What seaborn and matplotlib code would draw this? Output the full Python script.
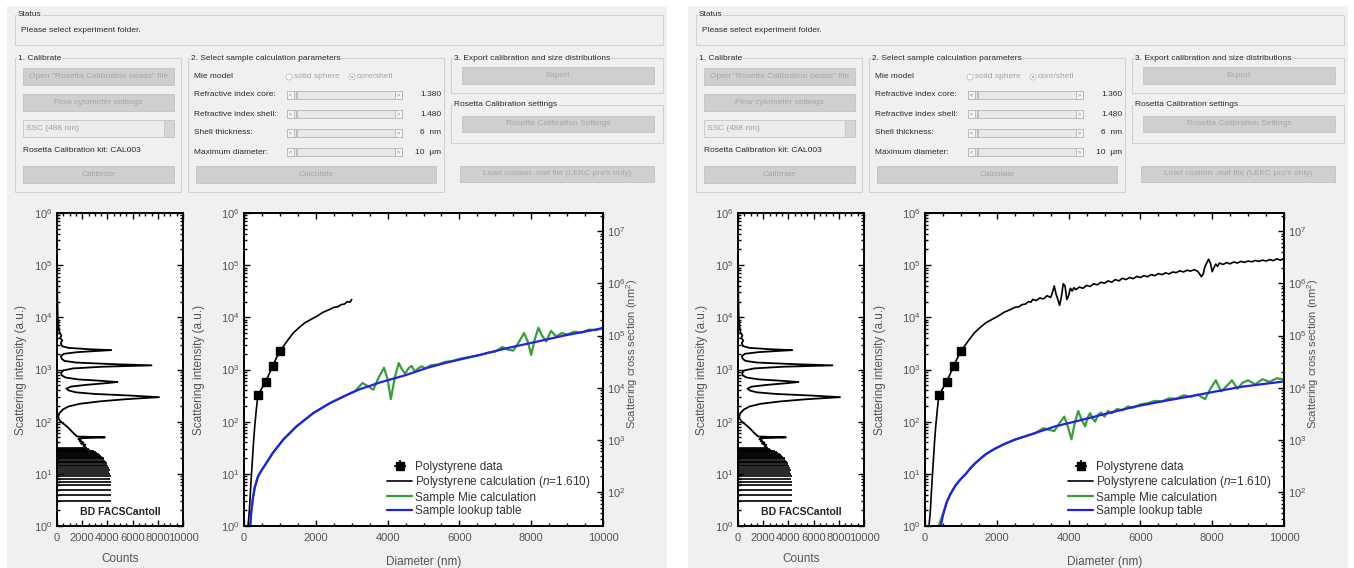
import numpy as np
import matplotlib
matplotlib.use("Agg")
import matplotlib.pyplot as plt
import seaborn as sns
from matplotlib.patches import Rectangle, Ellipse
from matplotlib.ticker import LogLocator, MultipleLocator, NullFormatter

# -----------------------------
# Data
# -----------------------------

# bead histogram (same in both panels): discrete low-intensity bins ...
comb_levels = [3, 4, 5, 6, 7, 8, 9, 10, 11, 12, 13, 14, 15, 16, 17, 18, 19, 20,
               21, 22, 23, 24, 25, 26, 27, 28, 29, 30, 31]
comb_counts = [4300, 4300, 4300, 4250, 4300, 4200, 4250, 4200, 4150, 4200, 4100,
               4050, 4000, 3950, 3900, 3800, 3750, 3700, 3600, 3500, 3400, 3300,
               3200, 3100, 2950, 2800, 2650, 2500, 2400]
# ... and the continuous part above them
hist_intensity = [32, 34, 36, 38, 40, 42, 44, 46, 48, 50, 52, 56, 62, 70, 80, 90, 100,
                  112, 125, 145, 170, 195, 220, 245, 270, 295, 315, 340, 365, 395,
                  430, 470, 510, 550, 575, 605, 645, 700, 770, 860, 960, 1050, 1130,
                  1200, 1270, 1360, 1460, 1600, 1800, 2000, 2150, 2270, 2350, 2450,
                  2600, 2800, 3200, 3600, 4000, 4500, 5100, 6000, 7500, 10000,
                  20000, 60000, 300000]
hist_counts = [2300, 2100, 2250, 1900, 2100, 1800, 1900, 1700, 1800, 3800, 1600,
               1450, 1250, 1050, 800, 550, 300, 150, 100, 180, 450, 900, 1800, 3400,
               5500, 8100, 6000, 3000, 1500, 950, 750, 1100, 2400, 4000, 4800, 3600,
               1700, 700, 380, 330, 500, 1300, 3600, 7500, 4300, 1500, 600, 380, 300,
               550, 1600, 3200, 4300, 2500, 900, 400, 300, 420, 260, 350, 200, 150,
               100, 60, 30, 10, 0]

# polystyrene beads
ps_data_d = [400, 600, 800, 1000]
ps_data_i = [320, 565, 1180, 2290]

# polystyrene Mie calculation up to 3 um (left panel stops here)
ps_calc_d = [100, 150, 177, 200, 233, 265, 298, 335, 372, 400, 450, 500, 600, 700,
             800, 900, 1000, 1100, 1200, 1370, 1550, 1700, 1850, 2020, 2200, 2390,
             2500, 2620, 2700, 2800, 2880, 2950, 3000]
ps_calc_i = [0.8, 2, 4.3, 8, 18, 40, 80, 150, 260, 320, 380, 440, 570, 820, 1170,
             1650, 2250, 2800, 3500, 5000, 6500, 7900, 9000, 10400, 12500, 14200,
             15500, 16000, 17500, 18000, 20000, 19500, 22000]
# continuation to 10 um (right panel)
ps_ext_d = [3100, 3200, 3300, 3400, 3500, 3550, 3600, 3650, 3700, 3750, 3800, 3850,
            3900, 3950, 4000, 4050, 4100, 4150, 4200, 4300, 4400, 4500, 4600, 4700,
            4800, 4900, 5000, 5100, 5200, 5300, 5400, 5500, 5600, 5700, 5800, 5900,
            6000, 6100, 6200, 6300, 6400, 6500, 6600, 6700, 6800, 6900, 7000, 7100,
            7200, 7300, 7400, 7500, 7600, 7700, 7750, 7800, 7900, 7950, 8000, 8050,
            8100, 8150, 8200, 8300, 8400, 8500, 8600, 8700, 8800, 8900, 9000, 9100,
            9200, 9300, 9400, 9500, 9600, 9700, 9800, 9900, 10000]
ps_ext_i = [21000, 23500, 22500, 26000, 24000, 30000, 40000, 28000, 22000, 17000,
            25000, 44000, 40000, 22000, 26000, 36000, 32000, 37000, 34000, 38000,
            36000, 41000, 39000, 44000, 42000, 47000, 45000, 50000, 47000, 53000,
            50000, 56000, 53000, 58000, 55000, 61000, 58000, 63000, 60000, 66000,
            63000, 69000, 66000, 71000, 68000, 74000, 72000, 78000, 74000, 80000,
            77000, 82000, 76000, 60000, 68000, 95000, 130000, 110000, 75000, 90000,
            105000, 95000, 110000, 103000, 112000, 106000, 115000, 110000, 118000,
            113000, 120000, 116000, 123000, 118000, 125000, 120000, 128000, 122000,
            132000, 125000, 135000]

# left panel sample (core 1.380)
left_lut_d = [175, 200, 250, 300, 390, 500, 620, 800, 1090, 1460, 1930, 2390, 2860,
              3230, 3790, 4530, 5090, 5650, 6390, 7320, 7970, 8900, 10000]
left_lut_i = [1, 1.8, 3.5, 5.5, 8.9, 12, 16, 25, 45, 81, 146, 226, 324, 420, 565,
              790, 1070, 1360, 1780, 2560, 3200, 4450, 6200]
left_mie_d = [175, 200, 250, 300, 390, 500, 620, 800, 1090, 1460, 1930, 2390, 2860,
              3100, 3300, 3450, 3600, 3750, 3900, 4000, 4090, 4200, 4310, 4400, 4490,
              4580, 4670, 4760, 4850, 4950, 5050, 5200, 5400, 5600, 5800, 6000, 6200,
              6400, 6600, 6800, 7000, 7200, 7350, 7500, 7650, 7800, 7900, 8000, 8100,
              8200, 8300, 8420, 8550, 8700, 8850, 9000, 9200, 9400, 9600, 9800, 10000]
left_mie_i = [1, 1.8, 3.5, 5.5, 8.9, 12, 16, 25, 45, 81, 146, 226, 324, 390, 550,
              480, 410, 700, 1080, 650, 270, 700, 1330, 1000, 830, 1050, 1170, 900,
              1050, 1150, 1050, 1200, 1250, 1400, 1450, 1600, 1700, 1800, 1900, 2100,
              2200, 2700, 2400, 2300, 3300, 5000, 3500, 1900, 3800, 6300, 4500, 3450,
              5500, 4300, 5000, 4700, 5300, 5100, 5800, 5700, 6300]

# right panel sample (core 1.360)
right_lut_d = [440, 500, 600, 700, 850, 1000, 1140, 1250, 1400, 1560, 1700, 1935,
               2200, 2495, 3056, 3617, 4364, 5112, 5860, 6607, 7355, 8103, 8850, 10000]
right_lut_i = [1, 1.6, 2.8, 4, 6, 8, 10, 12.5, 16, 20, 24, 30, 37, 45, 60, 81, 108,
               146, 195, 245, 303, 380, 470, 590]
right_mie_d = [380, 500, 600, 700, 850, 1000, 1140, 1250, 1400, 1560, 1700, 1935,
               2200, 2495, 3056, 3300, 3450, 3600, 3750, 3880, 3980, 4080, 4180, 4270,
               4360, 4460, 4530, 4600, 4670, 4740, 4820, 4900, 5000, 5100, 5200, 5350,
               5500, 5650, 5800, 6000, 6200, 6400, 6600, 6800, 7000, 7200, 7400, 7600,
               7800, 7950, 8100, 8250, 8400, 8550, 8700, 8850, 9000, 9200, 9400, 9600,
               9800, 10000]
right_mie_i = [1, 1.7, 2.8, 4, 6, 8, 10, 12.5, 16, 20, 24, 30, 37, 45, 60, 75, 70, 66,
               95, 125, 80, 46, 100, 160, 110, 81, 120, 146, 115, 100, 135, 150, 125,
               160, 145, 175, 165, 195, 185, 215, 225, 250, 245, 280, 275, 320, 300,
               330, 270, 430, 620, 380, 480, 620, 430, 560, 620, 520, 650, 580, 680, 640]

core_values = ["1.380", "1.360"]
shell_value = "1.480"

# -----------------------------
# Figure setup
# -----------------------------
sns.set_theme(style="white")
plt.rcParams['font.family'] = ['Liberation Sans', 'DejaVu Sans']
plt.rcParams['mathtext.fontset'] = 'custom'
plt.rcParams['mathtext.rm'] = 'Liberation Sans'
plt.rcParams['mathtext.it'] = 'Liberation Sans:italic'
plt.rcParams['mathtext.bf'] = 'Liberation Sans:bold'

W, H = 1354, 568
fig = plt.figure(figsize=(W / 100, H / 100), dpi=100)
fig.patch.set_facecolor('white')

PANEL = '#f0f0f0'
GUI_FS = 6
LABEL_C = '#555555'


def fbox(x, y, w, h):
    return [x / W, 1 - (y + h) / H, w / W, h / H]


def rect(x, y, w, h, **kw):
    r = Rectangle((x / W, 1 - (y + h) / H), w / W, h / H, transform=fig.transFigure, **kw)
    fig.add_artist(r)


def label(x, y, s, **kw):
    opts = dict(fontsize=GUI_FS, color='#2b2b2b', va='center', ha='left')
    opts.update(kw)
    fig.text(x / W, 1 - y / H, s, **opts)


def group(x, y, w, h, title):
    rect(x, y, w, h, fill=False, edgecolor='#d2d2d2', lw=0.8)
    label(x + 3, y, title, bbox=dict(facecolor=PANEL, edgecolor='none', pad=0.4))


def button(x, y, w, h, s):
    rect(x, y, w, h, facecolor='#cfcfcf', edgecolor='#c3c3c3', lw=0.6)
    label(x + w / 2, y + h / 2, s, ha='center', color='#a7a7a7')


def slider(x, y, w, value):
    rect(x, y - 4, w, 8, facecolor='#e8e8e8', edgecolor='#b5b5b5', lw=0.6)
    rect(x, y - 4, 7, 8, facecolor='#f4f4f4', edgecolor='#b5b5b5', lw=0.6)
    rect(x + w - 7, y - 4, 7, 8, facecolor='#f4f4f4', edgecolor='#b5b5b5', lw=0.6)
    rect(x + 9, y - 4, 2, 8, facecolor='#bcbcbc', edgecolor='none')
    label(x + 3.5, y, '<', ha='center', fontsize=4, color='#777777')
    label(x + w - 3.5, y, '>', ha='center', fontsize=4, color='#777777')
    label(441 + (x - 287), y, value, ha='right')


def gui(o, core):
    group(15 + o, 15, 648, 30, 'Status')
    label(21 + o, 30, 'Please select experiment folder.')

    group(15 + o, 58, 166, 134, '1. Calibrate')
    button(23 + o, 68, 151, 17, 'Open "Rosetta Calibration beads" file')
    button(23 + o, 94, 151, 17, 'Flow cytometer settings')
    rect(23 + o, 120, 151, 17, facecolor='#ececec', edgecolor='#c6c6c6', lw=0.6)
    rect(164 + o, 120, 10, 17, facecolor='#d6d6d6', edgecolor='#c6c6c6', lw=0.6)
    label(26 + o, 128.5, 'SSC (488 nm)', color='#a0a0a0')
    label(23 + o, 151, 'Rosetta Calibration kit: CAL003')
    button(23 + o, 166, 151, 17, 'Calibrate')

    group(188 + o, 58, 256, 134, '2. Select sample calculation parameters')
    label(194 + o, 77, 'Mie model')
    for cx, txt, sel in [(289, 'solid sphere', False), (352, 'core/shell', True)]:
        fig.add_artist(Ellipse(((cx + o) / W, 1 - 77 / H), 6 / W, 6 / H,
                               transform=fig.transFigure, facecolor='white',
                               edgecolor='#bdbdbd', lw=0.6))
        if sel:
            fig.add_artist(Ellipse(((cx + o) / W, 1 - 77 / H), 2.4 / W, 2.4 / H,
                                   transform=fig.transFigure, facecolor='#b0b0b0',
                                   edgecolor='none'))
        label(cx + 5 + o, 77, txt, color='#a5a5a5')
    rows = [(95, 'Refractive index core:', core),
            (114, 'Refractive index shell:', shell_value),
            (133, 'Shell thickness:', '6  nm'),
            (152, 'Maximum diameter:', '10  \u00b5m')]
    for ry, txt, val in rows:
        label(194 + o, ry, txt)
        slider(287 + o, ry, 115, val)
    button(196 + o, 166, 240, 17, 'Calculate')

    group(451 + o, 58, 212, 35, '3. Export calibration and size distributions')
    button(462 + o, 67, 192, 17, 'Export')
    group(451 + o, 105, 212, 38, 'Rosetta Calibration settings')
    button(462 + o, 116, 192, 16, 'Rosetta Calibration Settings')
    button(460 + o, 166, 194, 16, "Load custom .mat file (LEKC pro's only)")


def style_axes(ax):
    ax.set_facecolor('white')
    for s in ax.spines.values():
        s.set_visible(True)
        s.set_color('black')
        s.set_linewidth(1.4)
    ax.tick_params(which='both', direction='in', color='black',
                   labelcolor=LABEL_C, labelsize=8, width=1.0)
    ax.tick_params(which='major', length=4.5)
    ax.tick_params(which='minor', length=2.5)


def log_y(ax, lo, hi):
    ax.set_yscale('log')
    ax.set_ylim(lo, hi)
    ax.yaxis.set_major_locator(LogLocator(base=10, numticks=12))
    ax.yaxis.set_minor_locator(LogLocator(base=10, subs=np.arange(2, 10), numticks=12))
    ax.yaxis.set_minor_formatter(NullFormatter())


def draw_panel(o, lut_d, lut_i, mie_d, mie_i, calc_d, calc_i, core):
    rect(7 + o, 6, 660, H - 6, facecolor=PANEL, edgecolor='none', zorder=-10)
    gui(o, core)

    # histogram of calibration beads
    axh = fig.add_axes(fbox(57 + o, 213, 126, 313))
    style_axes(axh)
    log_y(axh, 1, 1e6)
    axh.set_xlim(0, 10000)
    axh.xaxis.set_major_locator(MultipleLocator(2000))
    axh.xaxis.set_minor_locator(MultipleLocator(500))
    axh.tick_params(which='both', left=True, right=True, top=True, bottom=True)
    axh.tick_params(axis='x', pad=5)
    axh.tick_params(axis='y', pad=3)
    axh.hlines(comb_levels, 0, comb_counts, colors='black', lw=1.2)
    sns.lineplot(x=hist_counts, y=hist_intensity, ax=axh, color='black', lw=1.3,
                 sort=False, estimator=None)
    axh.text(0.5, 0.03, 'BD FACSCantoII', transform=axh.transAxes, ha='center',
             va='bottom', fontsize=7.5, fontweight='bold', color='#222222')
    axh.set_xlabel('Counts', fontsize=8.5, color=LABEL_C)
    axh.set_ylabel('Scattering intensity (a.u.)', fontsize=8.5, color=LABEL_C)
    axh.xaxis.set_label_coords(0.5, -0.085)
    axh.yaxis.set_label_coords(-0.24, 0.5)

    # scattering vs diameter
    ax = fig.add_axes(fbox(244 + o, 213, 359, 313))
    style_axes(ax)
    log_y(ax, 1, 1e6)
    ax.set_xlim(0, 10000)
    ax.xaxis.set_major_locator(MultipleLocator(2000))
    ax.xaxis.set_minor_locator(MultipleLocator(500))
    ax.tick_params(which='both', left=True, right=False, top=True, bottom=True)
    ax.tick_params(axis='x', pad=5)
    ax.tick_params(axis='y', pad=3)

    sns.lineplot(x=calc_d, y=calc_i, ax=ax, color='black', lw=1.2, sort=False,
                 estimator=None, label='Polystyrene calculation ($\\it{n}$=1.610)')
    sns.lineplot(x=mie_d, y=mie_i, ax=ax, color='#3a9d3a', lw=1.6, sort=False,
                 estimator=None, label='Sample Mie calculation')
    sns.lineplot(x=lut_d, y=lut_i, ax=ax, color='#2222e0', lw=1.6, sort=False,
                 estimator=None, label='Sample lookup table')
    yi = np.array(ps_data_i)
    ax.errorbar(ps_data_d, ps_data_i, xerr=25, yerr=[yi * 0.1, yi * 0.12],
                fmt='s', color='black', ms=6, elinewidth=1.2, capsize=0,
                label='Polystyrene data', zorder=5)
    handles, labels = ax.get_legend_handles_labels()
    order = [labels.index('Polystyrene data')] + [i for i, l in enumerate(labels)
                                                  if l != 'Polystyrene data']
    ax.legend([handles[i] for i in order], [labels[i] for i in order],
              loc='lower left', bbox_to_anchor=(0.37, -0.005), frameon=False,
              fontsize=8.5, handlelength=2.1, handletextpad=0.2, labelspacing=0.12,
              labelcolor='#333333')
    ax.set_xlabel('Diameter (nm)', fontsize=8.5, color=LABEL_C)
    ax.set_ylabel('Scattering intensity (a.u.)', fontsize=8.5, color=LABEL_C)
    ax.xaxis.set_label_coords(0.5, -0.095)
    ax.yaxis.set_label_coords(-0.11, 0.5)

    # cross-section scale on the right
    ax2 = ax.twinx()
    style_axes(ax2)
    ax2.patch.set_visible(False)
    log_y(ax2, 10 ** 1.35, 10 ** 7.35)
    ax2.tick_params(which='both', left=False, right=True, top=False, bottom=False)
    ax2.tick_params(axis='y', pad=3)
    ax2.set_ylabel('Scattering cross section (nm$^2$)', fontsize=8, color=LABEL_C)
    ax2.yaxis.set_label_coords(1.058, 0.55)


draw_panel(0, left_lut_d, left_lut_i, left_mie_d, left_mie_i,
           ps_calc_d, ps_calc_i, core_values[0])
draw_panel(681, right_lut_d, right_lut_i, right_mie_d, right_mie_i,
           ps_calc_d + ps_ext_d, ps_calc_i + ps_ext_i, core_values[1])

fig.savefig('out.png', dpi=100, facecolor=fig.get_facecolor())
